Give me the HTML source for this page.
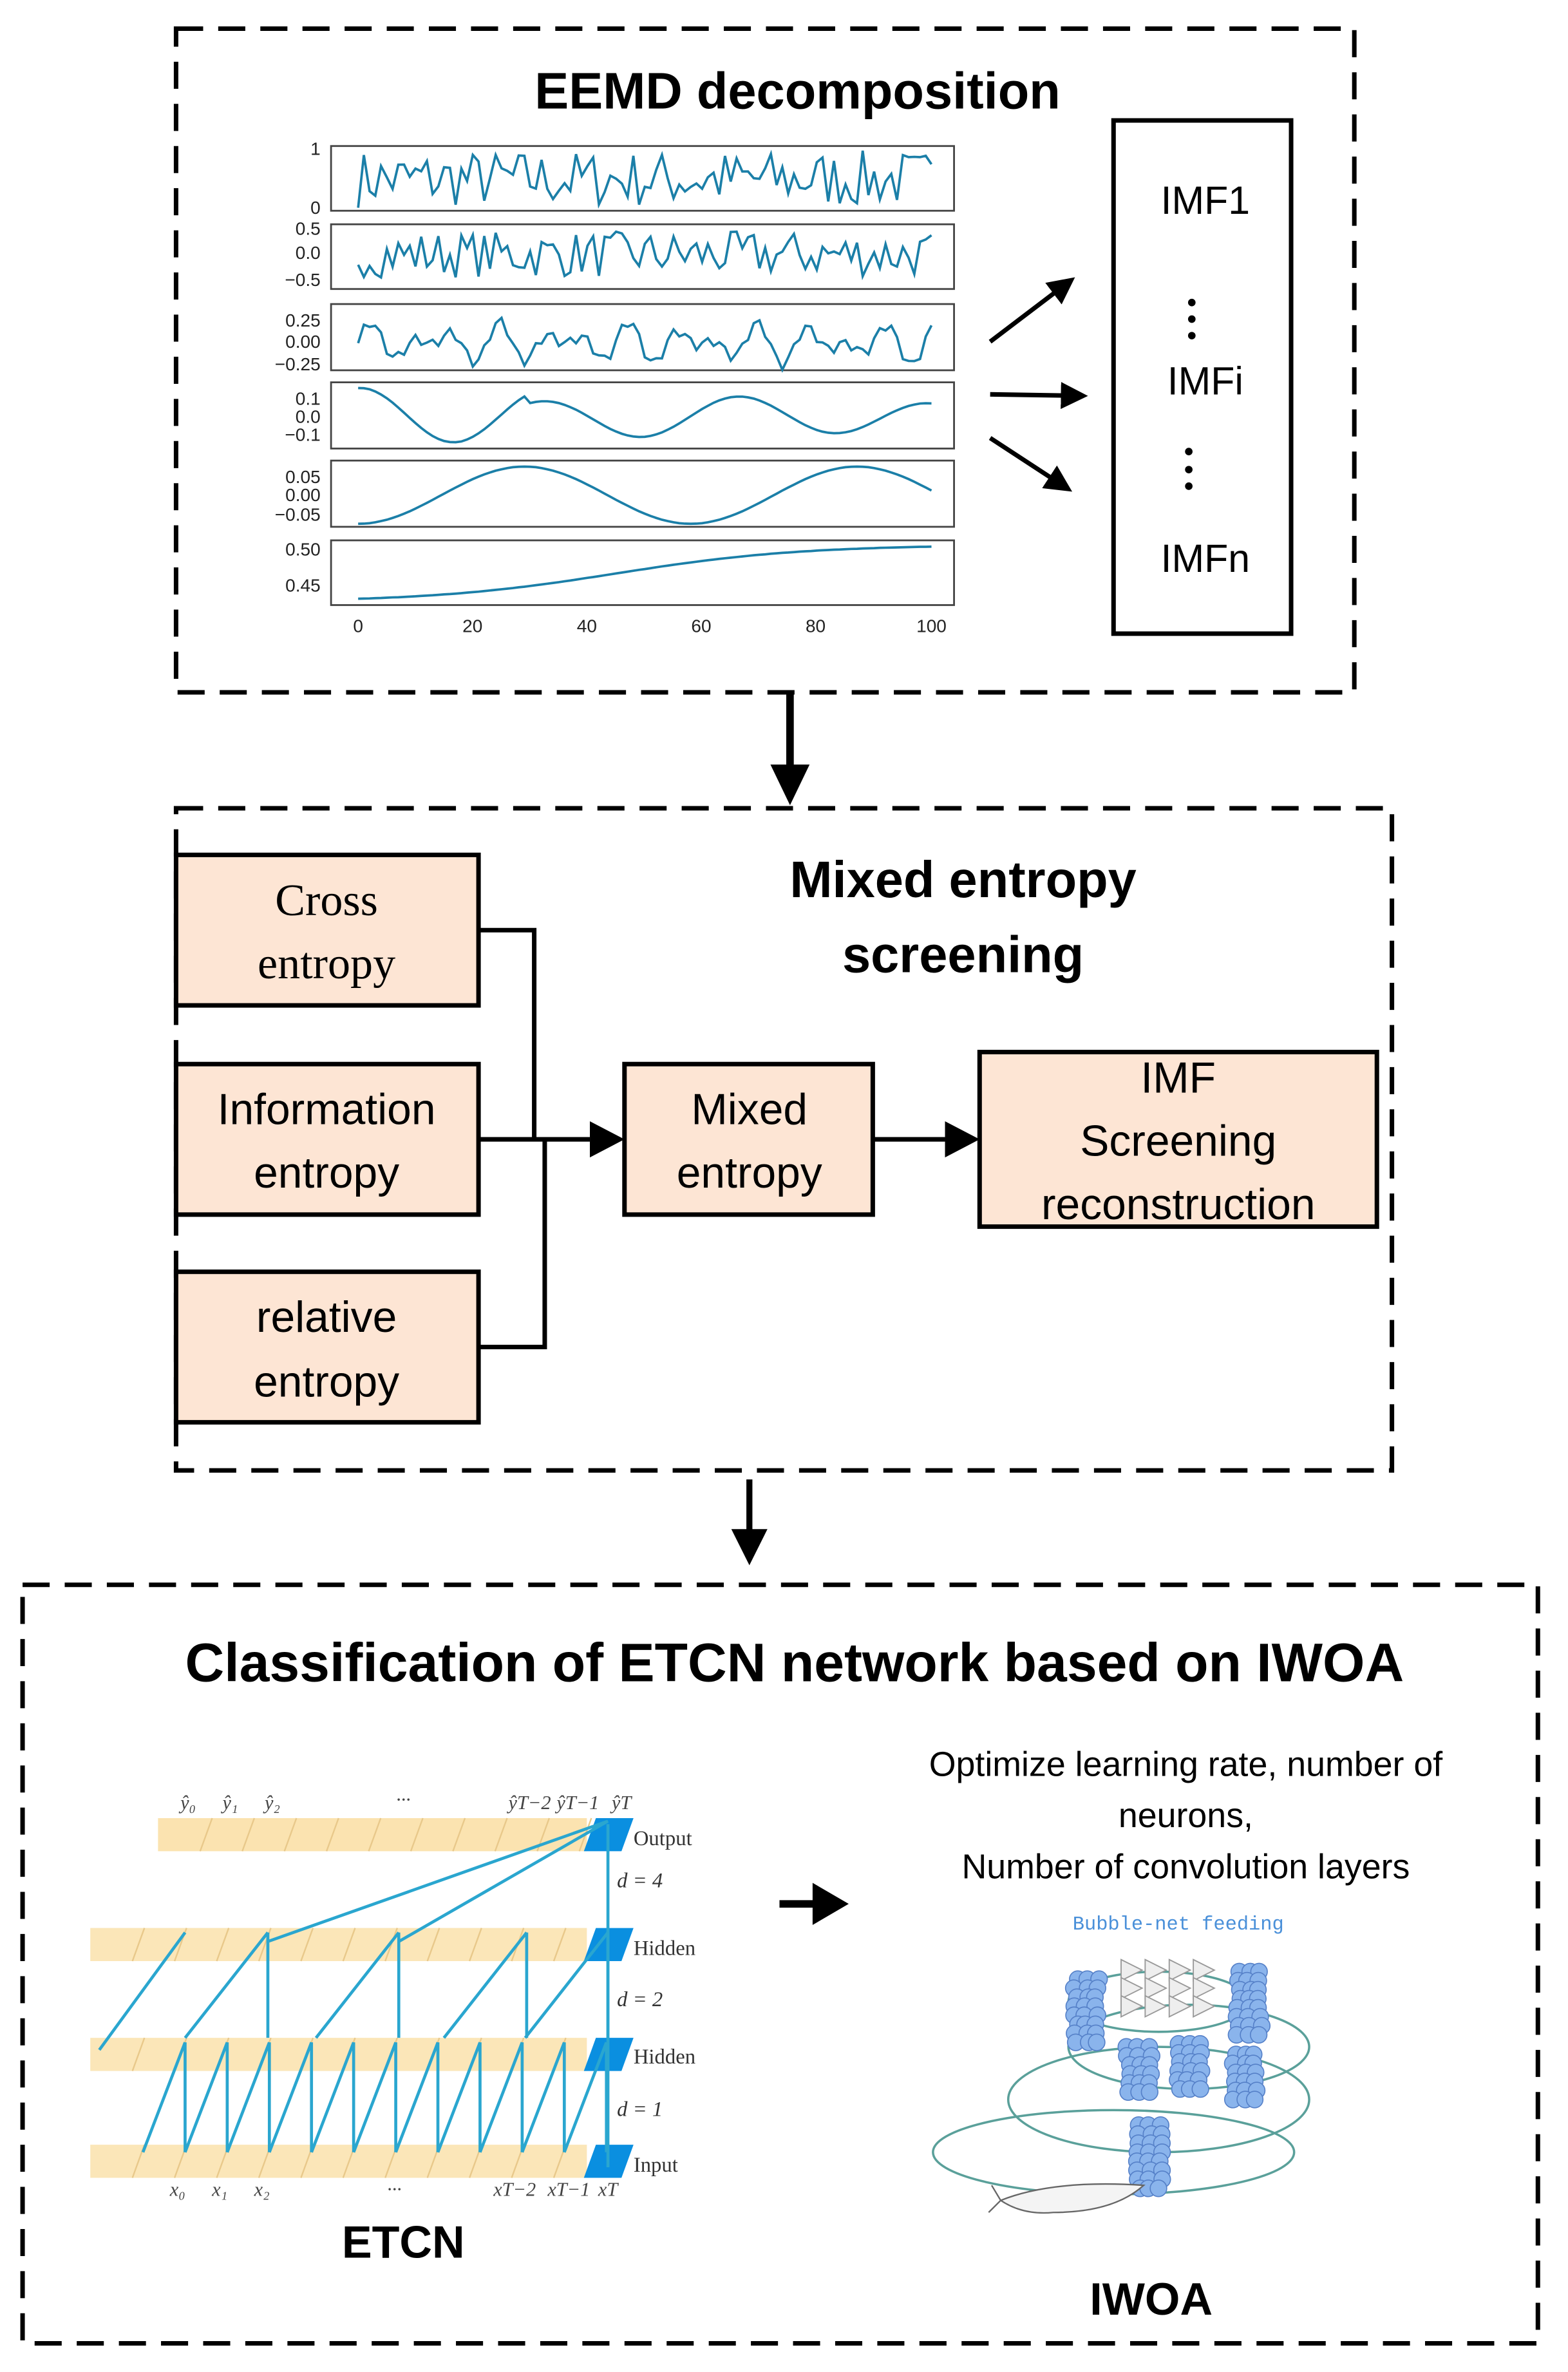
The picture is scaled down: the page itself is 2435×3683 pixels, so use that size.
<!DOCTYPE html>
<html><head><meta charset="utf-8">
<style>
html,body{margin:0;padding:0;background:#fff;}
svg{display:block;}
.b{font-family:"Liberation Sans",sans-serif;font-weight:bold;}
.n{font-family:"Liberation Sans",sans-serif;}
.s{font-family:"Liberation Serif",serif;}
</style></head><body>
<svg id="svg" width="2435" height="3683" viewBox="0 0 1042 1576" xmlns="http://www.w3.org/2000/svg">
<defs>
<marker id="ah" markerWidth="6" markerHeight="6" refX="5" refY="3" orient="auto" markerUnits="strokeWidth"><path d="M0,0 L6,3 L0,6 z" fill="#000"/></marker>
</defs>
<g fill="none" stroke="#000" stroke-width="3" stroke-dasharray="18,10">
<rect x="117" y="19" width="783" height="441"/>
<rect x="117" y="537" width="808" height="440"/>
<rect x="15" y="1053" width="1007" height="504"/>
</g>
<text class="b" x="530" y="72" font-size="34" text-anchor="middle">EEMD decomposition</text>
<g id="plots" fill="none" stroke="#444" stroke-width="1.2">
<rect x="220" y="97" width="414" height="43"/>
<rect x="220" y="149" width="414" height="43"/>
<rect x="220" y="202" width="414" height="44"/>
<rect x="220" y="254" width="414" height="44"/>
<rect x="220" y="306" width="414" height="44"/>
<rect x="220" y="359" width="414" height="43"/>
</g>
<g class="n" font-size="12" text-anchor="end" fill="#222">
<text x="213" y="103">1</text><text x="213" y="142">0</text>
<text x="213" y="156">0.5</text><text x="213" y="172">0.0</text><text x="213" y="190">−0.5</text>
<text x="213" y="217">0.25</text><text x="213" y="231">0.00</text><text x="213" y="246">−0.25</text>
<text x="213" y="269">0.1</text><text x="213" y="281">0.0</text><text x="213" y="293">−0.1</text>
<text x="213" y="321">0.05</text><text x="213" y="333">0.00</text><text x="213" y="346">−0.05</text>
<text x="213" y="369">0.50</text><text x="213" y="393">0.45</text>
</g>
<g class="n" font-size="12" text-anchor="middle" fill="#222">
<text x="238" y="420">0</text><text x="314" y="420">20</text><text x="390" y="420">40</text><text x="466" y="420">60</text><text x="542" y="420">80</text><text x="619" y="420">100</text>
</g>
<g id="waves" fill="none" stroke="#1b7fa8" stroke-width="1.6"></g>
<rect x="740" y="80" width="118" height="341" fill="none" stroke="#000" stroke-width="3"/>
<g class="n" font-size="26" text-anchor="middle">
<text x="801" y="142">IMF1</text><text x="801" y="262">IMFi</text><text x="801" y="380">IMFn</text>
</g>
<g fill="#000"><circle cx="792" cy="201" r="2.5"/><circle cx="792" cy="212" r="2.5"/><circle cx="792" cy="223" r="2.5"/>
<circle cx="790" cy="300" r="2.5"/><circle cx="790" cy="312" r="2.5"/><circle cx="790" cy="323" r="2.5"/></g>
<g stroke="#000" stroke-width="3" marker-end="url(#ah)" fill="none">
<line x1="658" y1="227" x2="712" y2="186"/>
<line x1="658" y1="262" x2="720" y2="263"/>
<line x1="658" y1="291" x2="710" y2="325"/>
</g>
<line x1="525" y1="460" x2="525" y2="510" stroke="#000" stroke-width="5"/>
<path d="M512,508 L538,508 L525,535 z" fill="#000"/>
<text class="b" x="640" y="596" font-size="34" text-anchor="middle">Mixed entropy</text>
<text class="b" x="640" y="646" font-size="34" text-anchor="middle">screening</text>
<g fill="#fde5d4" stroke="#000" stroke-width="3">
<rect x="117" y="568" width="201" height="100"/>
<rect x="117" y="707" width="201" height="100"/>
<rect x="117" y="845" width="201" height="100"/>
<rect x="415" y="707" width="165" height="100"/>
<rect x="651" y="699" width="264" height="116"/>
</g>
<g fill="none" stroke="#000" stroke-width="3">
<polyline points="318,618 355,618 355,757"/>
<polyline points="318,895 362,895 362,757"/>
<line x1="318" y1="757" x2="392" y2="757"/>
<line x1="580" y1="757" x2="628" y2="757"/>
</g>
<path d="M392,745 L415,757 L392,769 z" fill="#000"/>
<path d="M628,745 L651,757 L628,769 z" fill="#000"/>
<g class="s" font-size="30" text-anchor="middle">
<text x="217" y="608">Cross</text><text x="217" y="650">entropy</text>
</g>
<g class="n" font-size="29" text-anchor="middle">
<text x="217" y="747">Information</text><text x="217" y="789">entropy</text>
<text x="217" y="885">relative</text><text x="217" y="928">entropy</text>
<text x="498" y="747">Mixed</text><text x="498" y="789">entropy</text>
<text x="783" y="726">IMF</text><text x="783" y="768">Screening</text><text x="783" y="810">reconstruction</text>
</g>
<line x1="498" y1="983" x2="498" y2="1018" stroke="#000" stroke-width="4"/>
<path d="M486,1016 L510,1016 L498,1040 z" fill="#000"/>
<text class="b" x="528" y="1117" font-size="36" text-anchor="middle">Classification of ETCN network based on IWOA</text>
<g id="etcn"></g>
<g class="s" font-size="14" fill="#333">
<text x="421" y="1226">Output</text><text x="421" y="1299">Hidden</text><text x="421" y="1371">Hidden</text><text x="421" y="1443">Input</text>
<text x="410" y="1254" font-style="italic">d = 4</text><text x="410" y="1333" font-style="italic">d = 2</text><text x="410" y="1406" font-style="italic">d = 1</text>
</g>
<g class="s" font-size="13" font-style="italic" fill="#444" text-anchor="middle">
<text x="125" y="1202">ŷ₀</text><text x="153" y="1202">ŷ₁</text><text x="181" y="1202">ŷ₂</text><text x="268" y="1200">···</text>
<text x="352" y="1202">ŷT−2</text><text x="384" y="1202">ŷT−1</text><text x="413" y="1202">ŷT</text>
<text x="118" y="1459">x₀</text><text x="146" y="1459">x₁</text><text x="174" y="1459">x₂</text><text x="262" y="1459">···</text>
<text x="342" y="1459">xT−2</text><text x="378" y="1459">xT−1</text><text x="404" y="1459">xT</text>
</g>
<text class="b" x="268" y="1500" font-size="30" text-anchor="middle">ETCN</text>
<line x1="518" y1="1265" x2="545" y2="1265" stroke="#000" stroke-width="5"/>
<path d="M540,1251 L564,1265 L540,1279 z" fill="#000"/>
<g class="n" font-size="23" text-anchor="middle">
<text x="788" y="1180">Optimize learning rate, number of</text>
<text x="788" y="1214">neurons,</text>
<text x="788" y="1248">Number of convolution layers</text>
</g>
<text x="783" y="1282" font-family="Liberation Mono,monospace" font-size="13" fill="#4a90d9" text-anchor="middle">Bubble-net feeding</text>
<g id="whale"></g>
<text class="b" x="765" y="1538" font-size="30" text-anchor="middle">IWOA</text>
</svg>
<script>
(function(){
var NS="http://www.w3.org/2000/svg";
function el(p,t,a){var e=document.createElementNS(NS,t);for(var k in a)e.setAttribute(k,a[k]);p.appendChild(e);return e;}
var seed=7;function r(){seed=(seed*16807)%2147483647;return seed/2147483647;}
var W=document.getElementById("waves");
function X(i){return 238+i*3.81;}
function path(f){var d="";for(var i=0;i<=100;i++){d+=(i?"L":"M")+X(i).toFixed(1)+","+f(i).toFixed(1);}el(W,"path",{d:d});}
var a1=[];for(var i=0;i<=100;i++)a1.push(r());
path(function(i){return 138-38*a1[i];});
var a2=[];for(i=0;i<=100;i++)a2.push((r()-0.5)*0.9);
path(function(i){return 169-34*a2[i];});
var a3=[];for(i=0;i<=100;i++)a3.push(0.25*Math.sin(i*0.7)*Math.cos(i*0.13)+0.06*Math.sin(i*2.1));
path(function(i){return 228-58*a3[i];});
path(function(i){var v=0.16*Math.cos(i*0.19)*(i<30?1:0.6)+0.02*Math.sin(i*0.11);return 277-120*v;});
path(function(i){return 329+19*Math.cos(i*2*Math.PI/58);});
path(function(i){return 400-38/(1+Math.exp(-(i-45)/16));});
var E=document.getElementById("etcn");
var rows=[1208,1281,1354,1425];
rows.forEach(function(y,k){
 var x0=k==0?105:60;
 el(E,"rect",{x:x0,y:y,width:390-x0,height:22,fill:"#fbe3b0",opacity:k==0?1:0.9});
 for(var c=x0+28;c<390;c+=28)el(E,"line",{x1:c,y1:y+22,x2:c+8,y2:y,stroke:"#e8c88a","stroke-width":1});
 el(E,"path",{d:"M388,"+(y+22)+" L396,"+y+" L421,"+y+" L413,"+(y+22)+" z",fill:"#0a8fe0"});
});
function L(a,b,c,d){el(E,"line",{x1:a,y1:b,x2:c,y2:d,stroke:"#2aa6cf","stroke-width":2});}
L(404,1210,178,1290);L(404,1210,265,1290);L(404,1212,404,1440);
[[178,1284],[265,1284],[350,1284],[404,1284]].forEach(function(p){L(p[0],p[1],p[0]-55,p[1]+70);L(p[0],p[1],p[0],p[1]+70);});
L(123,1284,66,1362);
for(var x=123;x<=404;x+=28){L(x,1357,x-28,1430);L(x,1357,x,1430);}
var G=document.getElementById("whale");
[[790,1360,80,28],[770,1395,100,35],[740,1430,120,28],[770,1330,60,20]].forEach(function(e){el(G,"ellipse",{cx:e[0],cy:e[1],rx:e[2],ry:e[3],fill:"none",stroke:"#5aa09a","stroke-width":1.5});});
function cl(cx,cy,h){for(var j=0;j<h;j+=6){for(var k=-1;k<=1;k++){el(G,"circle",{cx:cx+k*7+(r()-0.5)*3,cy:cy+j,r:5.5,fill:"#8ab4ec",stroke:"#5580c8","stroke-width":0.7});}}}
cl(722,1315,45);cl(830,1310,45);cl(757,1360,35);cl(790,1358,35);cl(827,1365,35);cl(764,1412,45);
for(var t=0;t<12;t++){var tx=745+(t%4)*16,ty=1302+Math.floor(t/4)*12;el(G,"path",{d:"M"+tx+","+ty+" l14,7 l-14,7 z",fill:"#eee",stroke:"#999","stroke-width":0.8});}
el(G,"path",{d:"M665,1462 Q700,1448 760,1452 Q740,1470 700,1470 Q680,1472 665,1462 M665,1462 l-6,-10 M665,1462 l-8,8",fill:"#f4f4f4",stroke:"#666","stroke-width":1});
})();
</script>
</body></html>
